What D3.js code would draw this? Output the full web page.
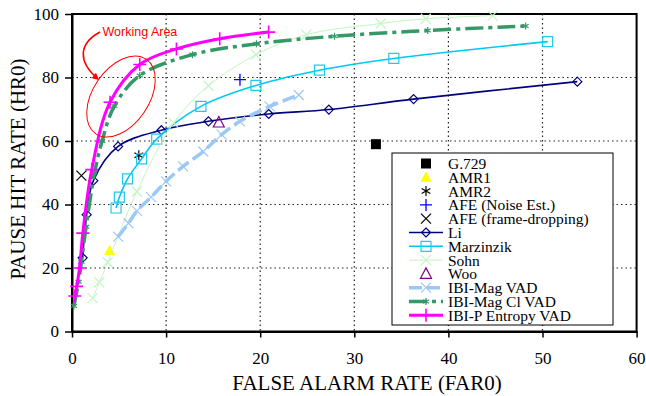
<!DOCTYPE html>
<html><head><meta charset="utf-8">
<script src="https://cdn.jsdelivr.net/npm/d3@7"></script>
<style>body{margin:0;background:#fff}svg{display:block}</style>
</head><body>
<script>
// ---------- data ----------
const xTicks = [0,10,20,30,40,50,60];
const yTicks = [0,20,40,60,80,100];
const xTitle = "FALSE ALARM RATE (FAR0)";
const yTitle = "PAUSE HIT RATE (HR0)";

const g729     = [[32.3,59.0]];
const amr1     = [[4.0,25.5]];
const amr2     = [[7.1,55.5]];
const afeNoise = [[17.85,79.3]];
const afeFrame = [[1.0,49.1]];
const woo      = [[15.6,65.8]];
const li = [[1.13,23.2],[1.56,36.8],[2.27,47.5],[4.9,58.3],[9.5,63.4],[14.5,66.2],[20.9,68.5],[27.3,69.9],[36.3,73.2],[53.7,78.7]];
const marzinzik = [[4.68,38.9],[5.03,42.3],[5.9,48.1],[7.4,54.4],[9.0,60.6],[13.7,70.9],[19.55,77.5],[26.3,82.3],[34.2,86.0],[50.55,91.3]];
const sohn = [[2.2,10.5],[2.9,15.5],[3.8,21.8],[6.9,44.1],[10.8,65.7],[14.5,77.4],[19.55,87.2],[24.9,93.5],[32.8,97.0],[37.6,98.5],[44.7,99.5]];
const ibiMag = [[4.9,29.9],[6.0,34.1],[6.9,38.0],[8.4,42.3],[10.0,47.3],[11.8,52.0],[13.95,56.7],[15.9,62.0],[17.85,66.2],[21.0,70.9],[24.1,74.5]];
const ibiMagCl = [[0.2,8.0],[0.7,15.7],[1.0,22.0],[1.5,33.0],[2.4,50.0],[3.2,60.0],[4.5,71.0],[7.2,80.6],[12.8,87.2],[19.6,90.6],[27.9,93.0],[37.8,94.8],[48.2,96.2]];
const ibiP = [[0.3,11.2],[0.5,14.2],[0.8,20.0],[1.15,31.0],[2.1,51.0],[4.04,72.2],[7.2,84.1],[11.1,89.0],[15.7,92.2],[20.9,94.3]];
const annotation = "Working Area";

// ---------- series styling table ----------
const series = [
  {name:"G.729", data:g729, line:false, marker:"square", color:"#000000", fill:true},
  {name:"AMR1", data:amr1, line:false, marker:"triangle", color:"#ffff00", fill:true},
  {name:"AMR2", data:amr2, line:false, marker:"asterisk", color:"#000000"},
  {name:"AFE (Noise Est.)", data:afeNoise, line:false, marker:"plus", color:"#0000ff"},
  {name:"AFE (frame-dropping)", data:afeFrame, line:false, marker:"times", color:"#000000"},
  {name:"Li", data:li, line:true, lw:1.6, marker:"diamond", color:"#000080", mcolor:"#000080"},
  {name:"Marzinzik", data:marzinzik, line:true, lw:1.6, marker:"square", color:"#00c8f5", mcolor:"#20c8f0"},
  {name:"Sohn", data:sohn, line:true, lw:1, marker:"times", color:"#c4f5c4"},
  {name:"Woo", data:woo, line:false, marker:"triangle", color:"#800080"},
  {name:"IBI-Mag VAD", data:ibiMag, line:true, lw:3.5, dash:"13,5", marker:"times", color:"#9cc8f5"},
  {name:"IBI-Mag Cl VAD", data:ibiMagCl, line:true, lw:3.5, dash:"18,5,4,5", marker:"asterisk", color:"#339966", msize:7},
  {name:"IBI-P Entropy VAD", data:ibiP, line:true, lw:3, marker:"plus", color:"#ff00ff", msize:13}
];

// ---------- layout ----------
const W = 646, H = 396;
const L = 72, R = 636.6, T = 14, B = 331.5;
const svg = d3.select("body").append("svg").attr("width",W).attr("height",H);
const x = d3.scaleLinear().domain([0,60]).range([L,R]);
const y = d3.scaleLinear().domain([0,100]).range([B,T]);

// grid
svg.append("g").selectAll("line").data(xTicks.filter(d=>d>0&&d<60)).join("line")
  .attr("x1",d=>x(d)).attr("x2",d=>x(d)).attr("y1",T).attr("y2",B)
  .attr("stroke","#222").attr("stroke-width",1.2).attr("stroke-dasharray","1.5,3");
svg.append("g").selectAll("line").data(yTicks.filter(d=>d>0&&d<100)).join("line")
  .attr("x1",L).attr("x2",R).attr("y1",d=>y(d)).attr("y2",d=>y(d))
  .attr("stroke","#222").attr("stroke-width",1.2).attr("stroke-dasharray","1.5,3");

// frame
svg.append("rect").attr("x",L).attr("y",T).attr("width",R-L).attr("height",B-T)
  .attr("fill","none").attr("stroke","#000").attr("stroke-width",2);

// axes
const fontSerif = "'Liberation Serif','Times New Roman',serif";
const xa = svg.append("g").attr("transform",`translate(0,${B})`)
  .call(d3.axisBottom(x).tickValues(xTicks).tickSize(6).tickSizeOuter(0).tickPadding(14));
const ya = svg.append("g").attr("transform",`translate(${L},0)`)
  .call(d3.axisLeft(y).tickValues(yTicks).tickSize(7).tickSizeOuter(0).tickPadding(6));
[xa,ya].forEach(a=>{
  a.select(".domain").attr("stroke","#000").attr("stroke-width",2);
  a.selectAll(".tick line").attr("stroke","#000").attr("stroke-width",1.5);
  a.selectAll("text").attr("font-family",fontSerif).attr("font-size",17).attr("fill","#000");
});

svg.append("text").attr("x",367).attr("y",390).attr("text-anchor","middle")
  .attr("font-family",fontSerif).attr("font-size",21).text(xTitle);
svg.append("text").attr("transform","translate(25,169) rotate(-90)").attr("text-anchor","middle")
  .attr("font-family",fontSerif).attr("font-size",21).text(yTitle);

// markers
function markerPath(type, s){
  const h = s/2;
  switch(type){
    case "square": return `M${-h},${-h}H${h}V${h}H${-h}Z`;
    case "diamond": return `M0,${-h}L${h},0L0,${h}L${-h},0Z`;
    case "triangle": return `M0,${-h*1.1}L${h},${h*0.8}L${-h},${h*0.8}Z`;
    case "plus": return `M${-h},0H${h}M0,${-h}V${h}`;
    case "times": return `M${-h},${-h}L${h},${h}M${-h},${h}L${h},${-h}`;
    case "asterisk": return `M0,${-h}V${h}M${-h*0.87},${-h*0.5}L${h*0.87},${h*0.5}M${-h*0.87},${h*0.5}L${h*0.87},${-h*0.5}`;
  }
}
const defSize = {square:10, diamond:9, triangle:11, plus:12, times:10, asterisk:10};

function drawMarker(g, s, cx, cy){
  const size = s.msize || defSize[s.marker];
  const mc = s.mcolor || s.color;
  g.append("path").attr("transform",`translate(${cx},${cy})`)
    .attr("d",markerPath(s.marker,size))
    .attr("fill", s.fill ? mc : "none")
    .attr("stroke", s.fill ? "none" : mc)
    .attr("stroke-width", s.marker==="plus" ? (s.lw && s.lw>2 ? 1.6 : 1.3) : 1.2);
}

const line = d3.line().x(d=>x(d[0])).y(d=>y(d[1])).curve(d3.curveCatmullRom.alpha(0.5));
const plot = svg.append("g");
series.forEach(s=>{
  const g = plot.append("g");
  if(s.line){
    g.append("path").attr("d",line(s.data)).attr("fill","none")
      .attr("stroke",s.color).attr("stroke-width",s.lw)
      .attr("stroke-dasharray",s.dash||null);
  }
  s.data.forEach(d=>drawMarker(g,s,x(d[0]),y(d[1])));
});

// annotation
svg.append("defs").append("marker").attr("id","ah").attr("viewBox","0 0 10 10")
  .attr("refX",8).attr("refY",5).attr("markerWidth",7).attr("markerHeight",7)
  .attr("orient","auto").attr("markerUnits","userSpaceOnUse")
  .append("path").attr("d","M0,0L10,5L0,10Z").attr("fill","#ff0000");
svg.append("path").attr("d","M100,32 C78,44 78,62 98,79").attr("fill","none")
  .attr("stroke","#ff0000").attr("stroke-width",1.6).attr("marker-end","url(#ah)");
svg.append("text").attr("x",102.5).attr("y",36).attr("font-family","'Liberation Sans',Arial,sans-serif")
  .attr("font-size",12.5).attr("fill","#ff0000").text(annotation);
svg.append("ellipse").attr("cx",121).attr("cy",96.5).attr("rx",45).attr("ry",28)
  .attr("transform","rotate(-56,121,96.5)").attr("fill","none").attr("stroke","#ff0000").attr("stroke-width",1);

// legend
const lg = svg.append("g");
lg.append("rect").attr("x",392).attr("y",153).attr("width",221).attr("height",172)
  .attr("fill","#fff").attr("stroke","#000").attr("stroke-width",1);
series.forEach((s,i)=>{
  const cy = 163.5 + i*13.8;
  const g = lg.append("g");
  if(s.line){
    g.append("line").attr("x1",409).attr("x2",443).attr("y1",cy).attr("y2",cy)
      .attr("stroke",s.color).attr("stroke-width",s.lw).attr("stroke-dasharray",s.dash||null);
  }
  drawMarker(g,s,426,cy);
  g.append("text").attr("x",448).attr("y",cy).attr("dy","0.35em")
    .attr("font-family",fontSerif).attr("font-size",15.5).text(s.name);
});
</script>
</body></html>
